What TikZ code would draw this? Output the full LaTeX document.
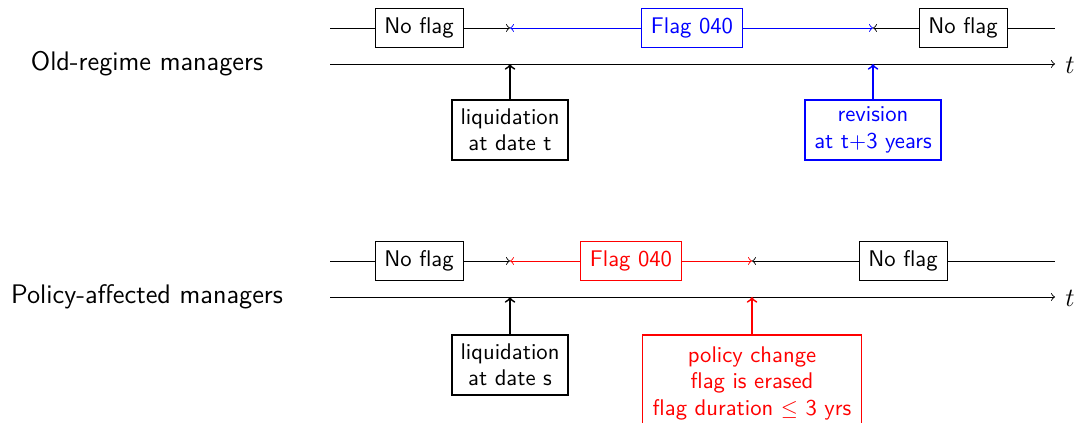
\documentclass[tikz,border=0pt]{standalone}
\begin{document}
\begin{tikzpicture}[x=0.4545pt,y=-0.4545pt,font=\sffamily\fontsize{10.3pt}{12pt}\selectfont,
  nf/.style={draw,minimum width=40pt,minimum height=17.5pt,inner sep=3pt},
  fb/.style={draw,minimum width=46pt,minimum height=17.5pt,inner sep=3pt},
  lb/.style={draw,thick,align=center,minimum width=53pt,minimum height=27pt,inner sep=3pt},
  grp/.style={font=\sffamily\fontsize{12.2pt}{14pt}\selectfont},
  tl/.style={font=\large,anchor=west,inner sep=0pt},
  up/.style={->,thick}]
\useasboundingbox (0,0) rectangle (1080,423);
% ---------- top ----------
\node[grp] (lab1) at (147,64) {Old-regime managers};
\coordinate (a1s) at (330,64);
\coordinate (a1e) at (1055,64);
\draw[->] (a1s) -- (a1e);
\node[tl] (t1) at (1065,65) {$t$};
\coordinate (l1s) at (330,28);
\coordinate (l1e) at (1055,28);
\node[nf] (n1) at (419,28) {No flag};
\coordinate (m1) at (510,28);
\node[fb,blue] (f1) at (692,28) {Flag 040};
\coordinate (m2) at (873,28);
\node[nf] (n2) at (963,28) {No flag};
\draw (l1s) -- (n1);
\draw[->] (n1) -- (m1);
\draw[->,blue] (f1) -- (m1);
\draw[->,blue] (f1) -- (m2);
\draw[->] (n2) -- (m2);
\draw (n2) -- (l1e);
\node[lb] (q1) at (510,130) {liquidation\\at date t};
\coordinate (p1) at (510,64);
\draw[up] (q1) -- (p1);
\node[lb,blue,minimum width=62pt] (r1) at (873,130) {revision\\at t$+$3 years};
\coordinate (p2) at (873,64);
\draw[up,blue] (r1) -- (p2);
% ---------- bottom ----------
\node[grp] (lab2) at (147,297) {Policy-affected managers};
\coordinate (a2s) at (330,297);
\coordinate (a2e) at (1055,297);
\draw[->] (a2s) -- (a2e);
\node[tl] (t2) at (1065,298) {$t$};
\coordinate (l2s) at (330,261);
\coordinate (l2e) at (1055,261);
\node[nf] (n3) at (419,261) {No flag};
\coordinate (m3) at (510,261);
\node[fb,red] (f2) at (631,261) {Flag 040};
\coordinate (m4) at (752,261);
\node[nf] (n4) at (903,261) {No flag};
\draw (l2s) -- (n3);
\draw[->] (n3) -- (m3);
\draw[->,red] (f2) -- (m3);
\draw[->,red] (f2) -- (m4);
\draw[->] (n4) -- (m4);
\draw (n4) -- (l2e);
\node[lb] (q2) at (510,365) {liquidation\\at date s};
\coordinate (p3) at (510,297);
\draw[up] (q2) -- (p3);
\node[lb,red,anchor=north,minimum width=99.5pt,minimum height=44pt] (pc) at (752,334) {policy change\\flag is erased\\flag duration $\leq$ 3 yrs};
\coordinate (p4) at (752,297);
\draw[up,red] (pc) -- (p4);
\end{tikzpicture}
\end{document}
